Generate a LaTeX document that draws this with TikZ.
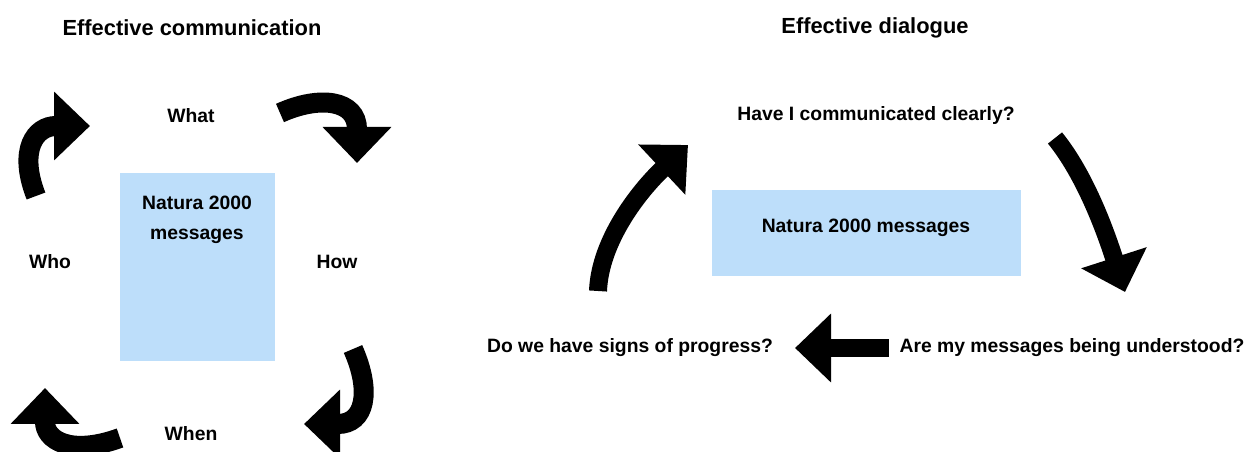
\documentclass[tikz,border=0pt]{standalone}
\usepackage{fontspec}
\setmainfont{Liberation Sans}
\usetikzlibrary{arrows.meta}
\definecolor{msgblue}{RGB}{189,222,250}
\tikzset{
  lbl/.style={font=\fontsize{14.5}{17}\selectfont\bfseries, align=center},
  ttl/.style={font=\fontsize{16.4}{19}\selectfont\bfseries},
  msgbox/.style={fill=msgblue, inner sep=0pt},
  blockarrow/.style={line width=13.5pt, -{Triangle[width=50pt,length=27pt]}},
  thickarrow/.style={blockarrow, line width=15pt}
}
\begin{document}
\begin{tikzpicture}[x=0.75pt, y=-0.75pt]
                \useasboundingbox (0,0) rectangle (1247,452);
                % left: effective communication
                \node[ttl] (comm) at (192,28) {Effective communication};
                \node[msgbox, minimum width=116.25pt, minimum height=141pt] (lbox) at (197.5,267) {};
                \node[lbl, anchor=north, font=\fontsize{14.5}{22.5}\selectfont\bfseries] (lmsg) at (197,191) {Natura 2000\\messages};
                \node[lbl] (what) at (191,116) {What};
                \node[lbl] (who) at (50,262) {Who};
                \node[lbl] (how) at (337,262) {How};
                \node[lbl] (when) at (191,434) {When};

                \coordinate (a1s) at (36,196);  \coordinate (a1e) at (90,126);
                \coordinate (a2s) at (280,113); \coordinate (a2e) at (357,163);
                \coordinate (a3s) at (353,349); \coordinate (a3e) at (304,424);
                \coordinate (a4s) at (120,438); \coordinate (a4e) at (45,388);

                \draw[thickarrow] (a1s) .. controls (18,150) and (35,126) .. (a1e);
                \draw[thickarrow] (a2s) .. controls (320,95) and (357,100) .. (a2e);
                \draw[thickarrow] (a3s) .. controls (372,392) and (365,424) .. (a3e);
                \draw[thickarrow] (a4s) .. controls (70,456) and (45,440) .. (a4e);

                % right: effective dialogue
                \node[ttl] (dial) at (875,28) {Effective dialogue};
                \node[msgbox, minimum width=231.75pt, minimum height=64.5pt] (rbox) at (866.5,233) {};
                \node[lbl] (rmsg) at (866,228) {Natura 2000 messages};
                \node[lbl] (clear) at (876,116) {Have I communicated clearly?};
                \node[lbl] (progress) at (630,348) {Do we have signs of progress?};
                \node[lbl] (understood) at (1072,348) {Are my messages being understood?};

                \coordinate (b1s) at (598,291);  \coordinate (b1e) at (688,145);
                \coordinate (b2s) at (1055,138); \coordinate (b2e) at (1125,292);

                \draw[blockarrow] (b1s) .. controls (600,240) and (640,190) .. (b1e);
                \draw[blockarrow] (b2s) .. controls (1085,175) and (1105,230) .. (b2e);
                \draw[blockarrow] (understood.west) ++(-6,0) -- (progress.east -| 795,0);
            \end{tikzpicture}
\end{document}
